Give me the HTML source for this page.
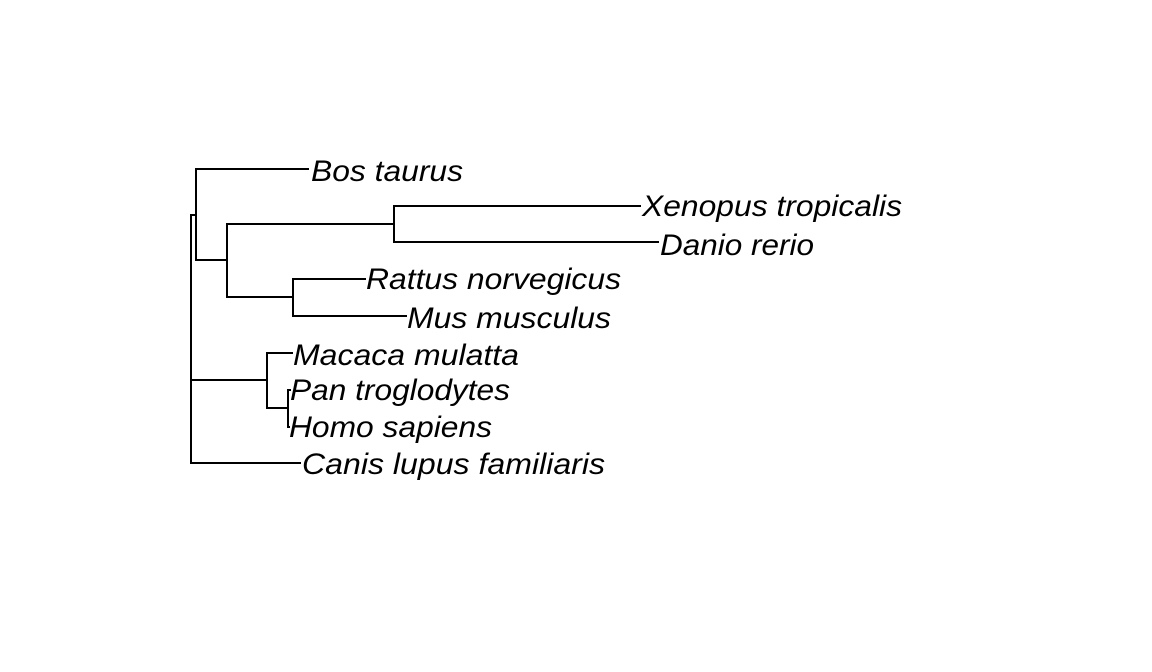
<!DOCTYPE html>
<html><head><style>html,body{margin:0;padding:0;background:#fff}svg{display:block}</style></head>
<body>
<svg width="1152" height="672" xmlns="http://www.w3.org/2000/svg">
<g stroke="#000" stroke-width="2" fill="none" stroke-linecap="square">
<path d="M191 215V463M191 215H196M196 169V260M196 169H308M196 260H227M227 224V297M227 224H394M394 206V242M394 206H640M394 242H658M227 297H293M293 279V316M293 279H365M293 316H406M191 380H267M267 353V408M267 353H292M267 408H288M288 390V427M288 390H290M288 427H289M191 463H300"/>
</g>
<g font-family="Liberation Sans, sans-serif" font-style="italic" font-size="30" fill="#000">
<text x="311" y="181" textLength="152" lengthAdjust="spacingAndGlyphs">Bos taurus</text>
<text x="642" y="216" textLength="260" lengthAdjust="spacingAndGlyphs">Xenopus tropicalis</text>
<text x="660" y="255" textLength="154" lengthAdjust="spacingAndGlyphs">Danio rerio</text>
<text x="366" y="289" textLength="255" lengthAdjust="spacingAndGlyphs">Rattus norvegicus</text>
<text x="407" y="328" textLength="204" lengthAdjust="spacingAndGlyphs">Mus musculus</text>
<text x="293" y="365" textLength="226" lengthAdjust="spacingAndGlyphs">Macaca mulatta</text>
<text x="290" y="400" textLength="220" lengthAdjust="spacingAndGlyphs">Pan troglodytes</text>
<text x="289" y="437" textLength="203" lengthAdjust="spacingAndGlyphs">Homo sapiens</text>
<text x="302" y="474" textLength="303" lengthAdjust="spacingAndGlyphs">Canis lupus familiaris</text>
</g>
</svg>
</body></html>
